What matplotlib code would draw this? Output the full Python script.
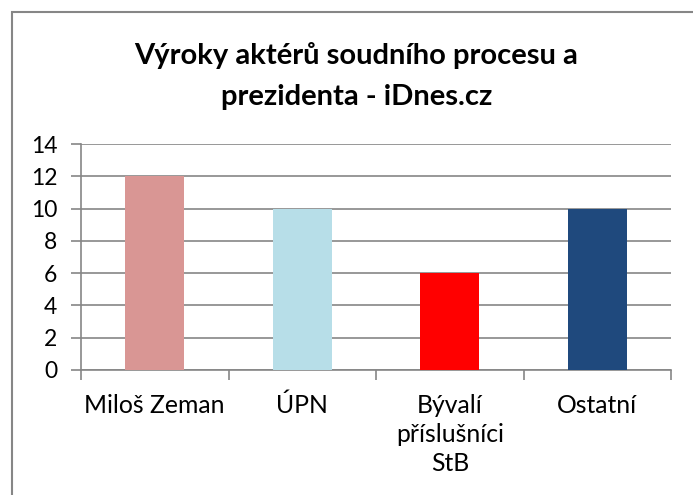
import matplotlib
matplotlib.use("Agg")
import matplotlib.pyplot as plt
from matplotlib.patches import Rectangle

categories = ["Miloš Zeman", "ÚPN", "Bývalí\npříslušníci\nStB", "Ostatní"]
values = [12, 10, 6, 10]
colors = ["#D99694", "#B7DEE8", "#FF0000", "#1F497D"]
yticks = [0, 2, 4, 6, 8, 10, 12, 14]
title = "Výroky aktérů soudního procesu a\nprezidenta - iDnes.cz"

plt.rcParams['font.family'] = ['Lato', 'DejaVu Sans']
W, H = 693, 495
fig = plt.figure(figsize=(W / 100, H / 100), dpi=100)
ax = fig.add_axes([81 / W, 1 - 370 / H, (671 - 81) / W, (370 - 144) / H])

x = list(range(len(categories)))
ax.bar(x, values, width=0.4, color=colors, zorder=3)
ax.set_xlim(-0.5, len(categories) - 0.5)
ax.set_ylim(0, 14)
ax.set_yticks(yticks)
ax.set_yticklabels([str(t) for t in yticks], fontsize=16.5)
ax.yaxis.grid(True, color="#868686", linewidth=1.2, zorder=0)

ax.set_xticks([i - 0.5 for i in range(len(categories) + 1)])
ax.set_xticklabels([])
ax.set_xticks(x, minor=True)
ax.set_xticklabels(categories, minor=True, fontsize=17.8, linespacing=1.33, va="top")
ax.tick_params(axis="x", which="major", length=7, width=1.2, color="#868686", direction="out")
ax.tick_params(axis="x", which="minor", length=0, pad=17)
ax.tick_params(axis="y", length=7, width=1.2, color="#868686", direction="out", pad=10)

for side in ["top", "right"]:
    ax.spines[side].set_visible(False)
for side in ["left", "bottom"]:
    ax.spines[side].set_color("#868686")
    ax.spines[side].set_linewidth(1.2)

fig.text(0.514, 1 - 76 / H, title, ha="center", va="center", fontsize=21,
         fontweight="bold", linespacing=1.7)

fig.patches.append(Rectangle((12 / W, -0.1), 1.2, 1.1 - 12 / H, transform=fig.transFigure,
                             fill=False, edgecolor="#868686", linewidth=1.5))

fig.savefig("out.png", dpi=100)
